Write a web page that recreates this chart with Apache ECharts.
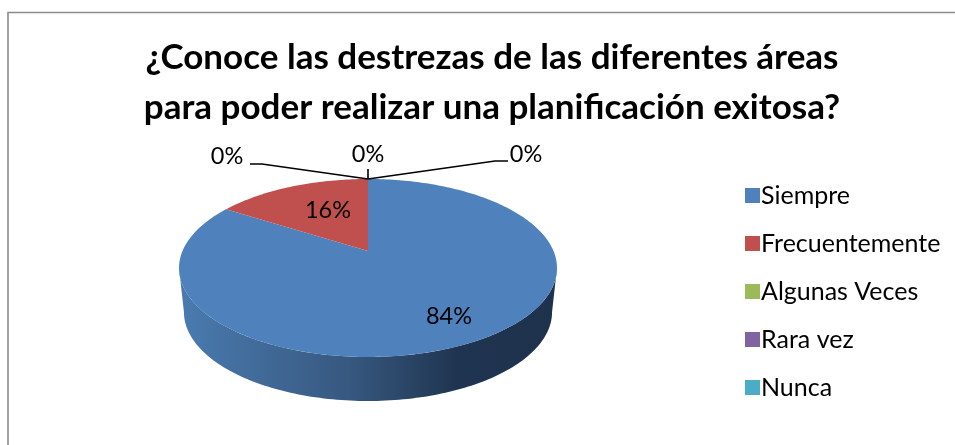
<!DOCTYPE html>
<html>
<head>
<meta charset="utf-8">
<style>
  html, body { margin: 0; padding: 0; background: #fff; }
  #chart { width: 955px; height: 445px; }
</style>
<script src="https://cdn.jsdelivr.net/npm/echarts@6/dist/echarts.min.js"></script>
</head>
<body>
<div id="chart"></div>
<script>
const categories = ["Siempre", "Frecuentemente", "Algunas Veces", "Rara vez", "Nunca"];
const sliceValues = [84, 16, 0, 0, 0];
const sliceColors = ["#4F81BD", "#C0504D", "#9BBB59", "#8064A2", "#4BACC6"];
const titleLines = "¿Conoce las destrezas de las diferentes áreas\npara poder realizar una planificación exitosa?";

// donde va cada etiqueta y la linea guia de los sectores en cero
const labelSpots = [[449, 316], [328, 210], [227, 156], [368, 154], [526, 154]];
const leaders = [null, null,
  [[368, 179], [262, 164], [250, 164]],
  [[368, 179], [368, 169]],
  [[368, 179], [495, 161], [508, 161]]];

const total = sliceValues.reduce((a, b) => a + b, 0);
const font = "Lato, Carlito, sans-serif";

// vista en perspectiva del disco
const pieX = 368, pieY = 251, persp = 0.191, spanX = 185.5, spanY = 85.75;
const depth = 44, baseScale = 0.974;

function project(theta, drop, scale) {
  const u = Math.sin(theta), v = Math.cos(theta), w = 1 + persp * v;
  return [pieX + spanX * scale * u / w, pieY + drop - spanY * v / w];
}

function arcPoints(from, to, drop, scale) {
  const pts = [];
  const steps = Math.max(2, Math.ceil((to - from) / 0.02));
  for (let i = 0; i <= steps; i++) {
    pts.push(project(from + (to - from) * i / steps, drop, scale));
  }
  return pts;
}

function makeRender(index) {
  return function (params, api) {
    const value = api.value(0);
    let before = 0;
    for (let i = 0; i < index; i++) before += sliceValues[i];
    const start = before / total * Math.PI * 2;
    const end = (before + value) / total * Math.PI * 2;
    const children = [];

    if (value > 0) {
      // pared visible: solo la parte del frente del disco
      const edge = Math.acos(-persp);
      const wallFrom = Math.max(start, edge);
      const wallTo = Math.min(end, Math.PI * 2 - edge);
      if (wallTo > wallFrom) {
        const top = arcPoints(wallFrom, wallTo, 0, 1);
        const base = arcPoints(wallFrom, wallTo, depth, baseScale).reverse();
        children.push({
          type: "polygon",
          shape: { points: top.concat(base) },
          style: {
            fill: new echarts.graphic.LinearGradient(0, 0, 1, 0, [
              { offset: 0, color: "#4A7BB0" },
              { offset: 0.45, color: "#37587F" },
              { offset: 0.74, color: "#1F3450" },
              { offset: 1, color: "#1E324D" }
            ])
          }
        });
      }
      children.push({
        type: "polygon",
        shape: { points: [[pieX, pieY]].concat(arcPoints(start, end, 0, 1)) },
        style: { fill: sliceColors[index] }
      });
    }

    if (leaders[index]) {
      children.push({
        type: "polyline",
        shape: { points: leaders[index] },
        style: { fill: null, stroke: "#000", lineWidth: 1.6 }
      });
    }

    children.push({
      type: "text",
      z2: 10,
      style: {
        text: value + "%",
        x: labelSpots[index][0],
        y: labelSpots[index][1],
        align: "center",
        verticalAlign: "middle",
        font: "23.5px " + font,
        fill: "#000"
      }
    });
    return { type: "group", children: children };
  };
}

const chart = echarts.init(document.getElementById("chart"), null, { renderer: "canvas" });
chart.setOption({
  animation: false,
  backgroundColor: "#fff",
  title: {
    text: titleLines,
    left: 487,
    top: 28,
    textAlign: "center",
    textStyle: { fontFamily: font, fontWeight: "bold", fontSize: 35, lineHeight: 50, color: "#000" }
  },
  legend: {
    orient: "vertical",
    left: 740,
    top: 178,
    itemWidth: 15,
    itemHeight: 15,
    itemGap: 23,
    selectedMode: false,
    icon: "rect",
    data: categories,
    textStyle: { fontFamily: font, fontSize: 25, lineHeight: 15, color: "#000", padding: [0, 0, 0, -4] }
  },
  graphic: [{
    type: "polyline",
    silent: true,
    shape: { points: [[8, 445], [8, 12.5], [955, 12.5]] },
    style: { fill: null, stroke: "#8A8A8A", lineWidth: 1.6 }
  }],
  series: categories.map((name, i) => ({
    type: "custom",
    name: name,
    coordinateSystem: "none",
    itemStyle: { color: sliceColors[i] },
    renderItem: makeRender(i),
    data: [[sliceValues[i]]]
  }))
});
window.addEventListener("resize", () => chart.resize());
</script>
</body>
</html>
